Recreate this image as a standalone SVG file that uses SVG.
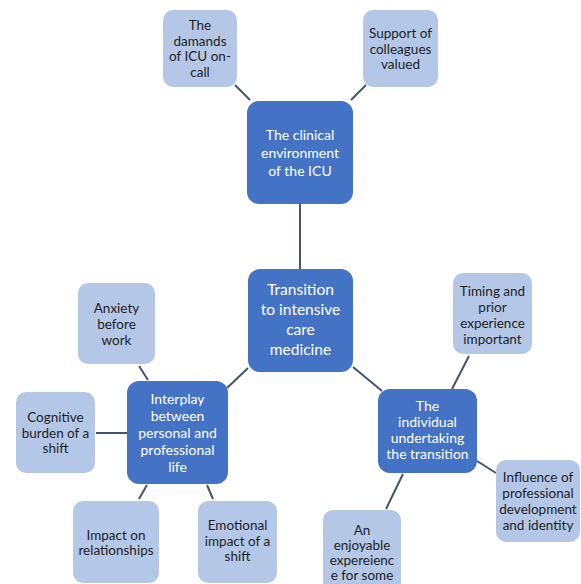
<svg xmlns="http://www.w3.org/2000/svg" width="581" height="584" viewBox="0 0 581 584">
<style>
.bg{fill:#ffffff}
.dk{fill:#4472c4}
.lt{fill:#b4c7e7}
.c line{stroke:#44546a;stroke-width:2}
text{font-family:Lato,"Open Sans","Liberation Sans",sans-serif;text-anchor:middle}
.tl{font-size:13.5px;fill:#1e1e1e}
.td{font-size:14px;fill:#ffffff}
.tc{font-size:15.5px;fill:#ffffff}
</style>
<rect class="bg" x="0" y="0" width="581" height="584"/>
<g class="c" id="connectors">
<line x1="235" y1="85" x2="250" y2="100"/>
<line x1="366" y1="85" x2="351" y2="100"/>
<line x1="300" y1="204" x2="300" y2="269"/>
<line x1="227" y1="388" x2="248" y2="368"/>
<line x1="139" y1="366" x2="148" y2="380"/>
<line x1="96" y1="433" x2="127" y2="433"/>
<line x1="139" y1="499" x2="147" y2="485"/>
<line x1="207" y1="485" x2="213" y2="499"/>
<line x1="353" y1="367" x2="382" y2="391"/>
<line x1="469" y1="356" x2="452" y2="389"/>
<line x1="477" y1="461" x2="496" y2="473"/>
<line x1="403" y1="474" x2="386" y2="509"/>
</g>
<g id="n-central"><rect class="dk" x="248" y="269" width="105" height="103" rx="12"/><text class="tc" x="300.5" y="295">Transition<tspan x="300.5" dy="20">to intensive</tspan><tspan x="300.5" dy="20">care</tspan><tspan x="300.5" dy="20">medicine</tspan></text></g>
<g id="n-clinical"><rect class="dk" x="247" y="101" width="106" height="103" rx="12"/><text class="td" x="300" y="140">The clinical<tspan x="300" dy="18">environment</tspan><tspan x="300" dy="18">of the ICU</tspan></text></g>
<g id="n-damands"><rect class="lt" x="163" y="10" width="74" height="77" rx="10"/><text class="tl" x="200" y="30">The<tspan x="200" dy="15.5">damands</tspan><tspan x="200" dy="15.5">of ICU on-</tspan><tspan x="200" dy="15.5">call</tspan></text></g>
<g id="n-support"><rect class="lt" x="363" y="10" width="75" height="77" rx="10"/><text class="tl" x="400.5" y="38">Support of<tspan x="400.5" dy="15.5">colleagues</tspan><tspan x="400.5" dy="15.5">valued</tspan></text></g>
<g id="n-interplay"><rect class="dk" x="127" y="381" width="101" height="103" rx="12"/><text class="td" x="177.5" y="404">Interplay<tspan x="177.5" dy="17">between</tspan><tspan x="177.5" dy="17">personal and</tspan><tspan x="177.5" dy="17">professional</tspan><tspan x="177.5" dy="17">life</tspan></text></g>
<g id="n-anxiety"><rect class="lt" x="78" y="283" width="77" height="81" rx="10"/><text class="tl" x="116.5" y="312.5">Anxiety<tspan x="116.5" dy="16">before</tspan><tspan x="116.5" dy="16">work</tspan></text></g>
<g id="n-cognitive"><rect class="lt" x="16" y="392" width="79" height="81" rx="10"/><text class="tl" x="55.5" y="422">Cognitive<tspan x="55.5" dy="15.5">burden of a</tspan><tspan x="55.5" dy="15.5">shift</tspan></text></g>
<g id="n-relationships"><rect class="lt" x="73" y="501" width="86" height="82" rx="10"/><text class="tl" x="116" y="539.5">Impact on<tspan x="116" dy="15.5">relationships</tspan></text></g>
<g id="n-emotional"><rect class="lt" x="198" y="501" width="79" height="82" rx="10"/><text class="tl" x="237.5" y="530">Emotional<tspan x="237.5" dy="15.5">impact of a</tspan><tspan x="237.5" dy="15.5">shift</tspan></text></g>
<g id="n-individual"><rect class="dk" x="378" y="389" width="99" height="84" rx="12"/><text class="td" x="427.5" y="411">The<tspan x="427.5" dy="16">individual</tspan><tspan x="427.5" dy="16">undertaking</tspan><tspan x="427.5" dy="16">the transition</tspan></text></g>
<g id="n-timing"><rect class="lt" x="453" y="273" width="79" height="81" rx="10"/><text class="tl" x="492.5" y="296">Timing and<tspan x="492.5" dy="16">prior</tspan><tspan x="492.5" dy="16">experience</tspan><tspan x="492.5" dy="16">important</tspan></text></g>
<g id="n-influence"><rect class="lt" x="496" y="460" width="84" height="82" rx="10"/><text class="tl" x="538" y="482">Influence of<tspan x="538" dy="16">professional</tspan><tspan x="538" dy="16">development</tspan><tspan x="538" dy="16">and identity</tspan></text></g>
<g id="n-enjoyable"><rect class="lt" x="323" y="510" width="78" height="90" rx="10"/><text class="tl" x="362" y="534.5">An<tspan x="362" dy="15.3">enjoyable</tspan><tspan x="362" dy="15.3">expereienc</tspan><tspan x="362" dy="15.3">e for some</tspan></text></g>
</svg>
